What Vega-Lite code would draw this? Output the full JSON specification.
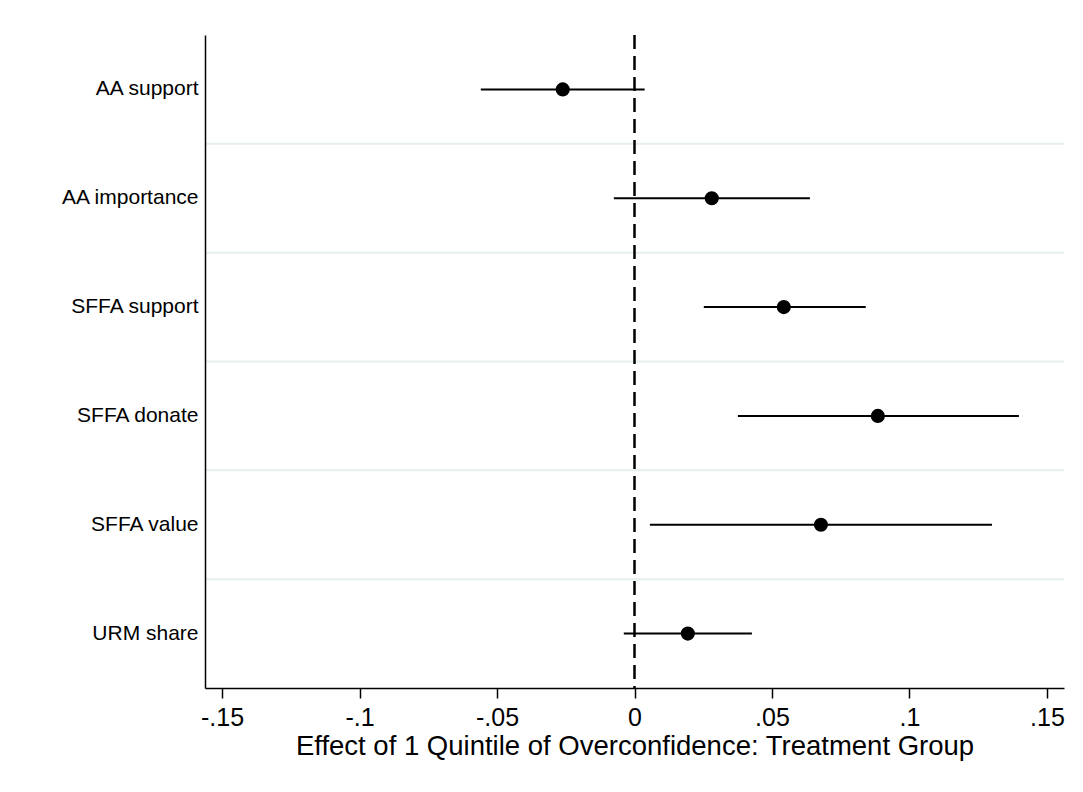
{
  "$schema": "https://vega.github.io/schema/vega-lite/v6.json",
  "width": 859,
  "height": 653,
  "autosize": "none",
  "padding": {"left": 205, "top": 35, "right": 19, "bottom": 104},
  "background": "white",
  "config": {"view": {"stroke": null}, "font": "Liberation Sans"},
  "datasets": {
    "coefs": [
      {"outcome": "AA support", "est": -0.0261, "lo": -0.0559, "hi": 0.0037},
      {"outcome": "AA importance", "est": 0.0281, "lo": -0.0075, "hi": 0.0638},
      {"outcome": "SFFA support", "est": 0.0543, "lo": 0.0252, "hi": 0.0841},
      {"outcome": "SFFA donate", "est": 0.0885, "lo": 0.0376, "hi": 0.1398},
      {"outcome": "SFFA value", "est": 0.0678, "lo": 0.0056, "hi": 0.130},
      {"outcome": "URM share", "est": 0.0194, "lo": -0.0039, "hi": 0.0427}
    ],
    "separators": [
      {"outcome": "AA importance"},
      {"outcome": "SFFA support"},
      {"outcome": "SFFA donate"},
      {"outcome": "SFFA value"},
      {"outcome": "URM share"}
    ]
  },
  "data": {"name": "coefs"},
  "layer": [
    {
      "data": {"name": "separators"},
      "mark": {"type": "rule", "strokeWidth": 2, "color": "#e6eef0"},
      "encoding": {
        "y": {"field": "outcome", "type": "nominal", "sort": null, "bandPosition": 0}
      }
    },
    {
      "data": {"values": [{"zero": 0}]},
      "mark": {"type": "rule", "strokeDash": [14, 7], "strokeWidth": 2.5, "color": "black"},
      "encoding": {
        "x": {"field": "zero", "type": "quantitative"}
      }
    },
    {
      "mark": {"type": "rule", "strokeWidth": 2, "color": "black"},
      "encoding": {
        "y": {
          "field": "outcome",
          "type": "nominal",
          "sort": null,
          "scale": {
            "domain": ["AA support", "AA importance", "SFFA support", "SFFA donate", "SFFA value", "URM share"],
            "paddingInner": 0,
            "paddingOuter": 0
          },
          "axis": {
            "title": null,
            "ticks": false,
            "grid": false,
            "zindex": 1,
            "domainColor": "black",
            "domainWidth": 1.5,
            "labelFontSize": 21,
            "labelColor": "black",
            "labelPadding": 7,
            "labelFont": "Liberation Sans"
          }
        },
        "x": {
          "field": "lo",
          "type": "quantitative",
          "scale": {"domain": [-0.1562, 0.1562], "nice": false, "zero": false},
          "axis": {
            "values": [-0.15, -0.1, -0.05, 0, 0.05, 0.1, 0.15],
            "labelExpr": "datum.value == 0 ? '0' : (datum.value < 0 ? '-' : '') + replace(format(abs(datum.value), '.2~f'), '0.', '.')",
            "grid": false,
            "zindex": 1,
            "tickSize": 10,
            "tickColor": "black",
            "tickWidth": 1.5,
            "domainColor": "black",
            "domainWidth": 1.5,
            "labelFontSize": 25,
            "labelColor": "black",
            "labelPadding": 7,
            "labelFlush": false,
            "labelOverlap": false,
            "labelFont": "Liberation Sans",
            "title": "Effect of 1 Quintile of Overconfidence: Treatment Group",
            "titleFont": "Liberation Sans",
            "titleFontSize": 27.5,
            "titleFontWeight": "normal",
            "titleColor": "black",
            "titlePadding": 2
          }
        },
        "x2": {"field": "hi"}
      }
    },
    {
      "mark": {"type": "point", "filled": true, "size": 200, "color": "black", "opacity": 1},
      "encoding": {
        "x": {"field": "est", "type": "quantitative"},
        "y": {"field": "outcome", "type": "nominal", "sort": null}
      }
    }
  ]
}
